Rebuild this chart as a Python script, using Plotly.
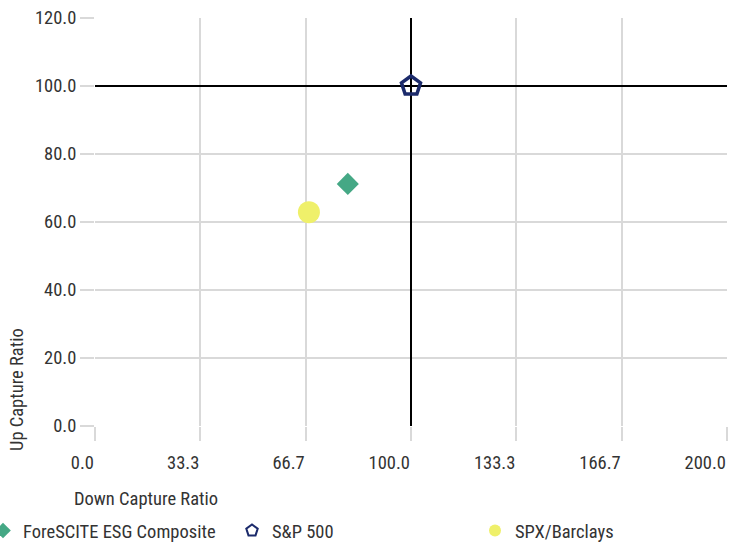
import plotly.graph_objects as go

series_names = ["ForeSCITE ESG Composite", "S&P 500", "SPX/Barclays"]
down_capture = [80.0, 100.0, 67.7]
up_capture = [71.2, 100.0, 62.9]
symbols = ["diamond", "pentagon-open", "circle"]
colors = ["#45a885", "#1b2a6b", "#eff06a"]
sizes = [17, 20, 22]
legend_ids = ["legend", "legend", "legend2"]

x_ticks = [0, 100/3, 200/3, 100, 400/3, 500/3, 200]
x_ticktext = ["0.0", "33.3", "66.7", "100.0", "133.3", "166.7", "200.0"]
y_ticks = [0, 20, 40, 60, 80, 100, 120]
y_ticktext = ["0.0", "20.0", "40.0", "60.0", "80.0", "100.0", "120.0"]

ref_x = 100.0
ref_y = 100.0
x_range = [0, 200]
y_range = [0, 120]

FONT = "Liberation Sans Narrow, Roboto Condensed, Arial Narrow, sans-serif"
TXT = "#333333"
FS = 18.5

fig = go.Figure()
fig.add_trace(go.Scatter(x=x_range, y=[ref_y, ref_y], mode="lines",
                         line=dict(color="#000000", width=2), showlegend=False, hoverinfo="skip"))
fig.add_trace(go.Scatter(x=[ref_x, ref_x], y=y_range, mode="lines",
                         line=dict(color="#000000", width=2), showlegend=False, hoverinfo="skip"))

for name, xv, yv, sym, col, sz, lg in zip(series_names, down_capture, up_capture, symbols, colors, sizes, legend_ids):
    if sym.endswith("open"):
        marker = dict(symbol=sym, size=sz, color=col, line=dict(color=col, width=3.5))
    else:
        marker = dict(symbol=sym, size=sz, color=col, line=dict(width=0))
    fig.add_trace(go.Scatter(x=[xv], y=[yv], mode="markers", name=name, marker=marker, legend=lg))

W, H = 729, 543
L, T, PW, PH = 95, 18, 632, 408

fig.update_layout(
    width=W, height=H,
    paper_bgcolor="white", plot_bgcolor="white",
    margin=dict(l=L, r=W - L - PW, t=T, b=H - T - PH, autoexpand=False),
    font=dict(family=FONT, size=FS, color=TXT),
    xaxis=dict(range=x_range, tickvals=x_ticks, ticktext=x_ticktext,
               showgrid=True, gridcolor="#d9d9d9", gridwidth=2,
               zeroline=False, showline=False,
               ticks="outside", ticklen=14, tickwidth=2, tickcolor="#d9d9d9",
               ticklabelposition="outside left",
               ticklabelstandoff=20, ticklabeloverflow="allow",
               tickfont=dict(size=FS, color=TXT)),
    yaxis=dict(range=y_range, tickvals=y_ticks, ticktext=y_ticktext,
               showgrid=True, gridcolor="#d9d9d9", gridwidth=2,
               zeroline=False, showline=False,
               ticks="outside", ticklen=14, tickwidth=2, tickcolor="#d9d9d9",
               ticklabelstandoff=0, ticklabeloverflow="allow",
               tickfont=dict(size=FS, color=TXT)),
    legend=dict(orientation="h", x=(-17 - L) / PW, xanchor="left", y=-105 / PH, yanchor="middle",
                entrywidth=204, entrywidthmode="pixels",
                font=dict(size=FS, color=TXT), itemsizing="constant",
                bgcolor="rgba(0,0,0,0)"),
    legend2=dict(orientation="h", x=(475 - L) / PW, xanchor="left", y=-105 / PH, yanchor="middle",
                 font=dict(size=FS, color=TXT), itemsizing="constant",
                 bgcolor="rgba(0,0,0,0)"),
    annotations=[
        dict(text="Up Capture Ratio", xref="paper", yref="paper",
             x=(17 - L) / PW, y=(PH + T - 390) / PH, xanchor="center", yanchor="middle",
             textangle=-90, showarrow=False, font=dict(size=FS, color=TXT)),
        dict(text="Down Capture Ratio", xref="paper", yref="paper",
             x=(72 - L) / PW, y=-(499 - PH - T) / PH, xanchor="left", yanchor="middle",
             showarrow=False, font=dict(size=FS, color=TXT)),
    ],
)

fig.write_html(
    "out.html",
    config={"displayModeBar": False},
    post_script="document.body.style.margin='0';document.body.style.overflow='hidden';",
)
